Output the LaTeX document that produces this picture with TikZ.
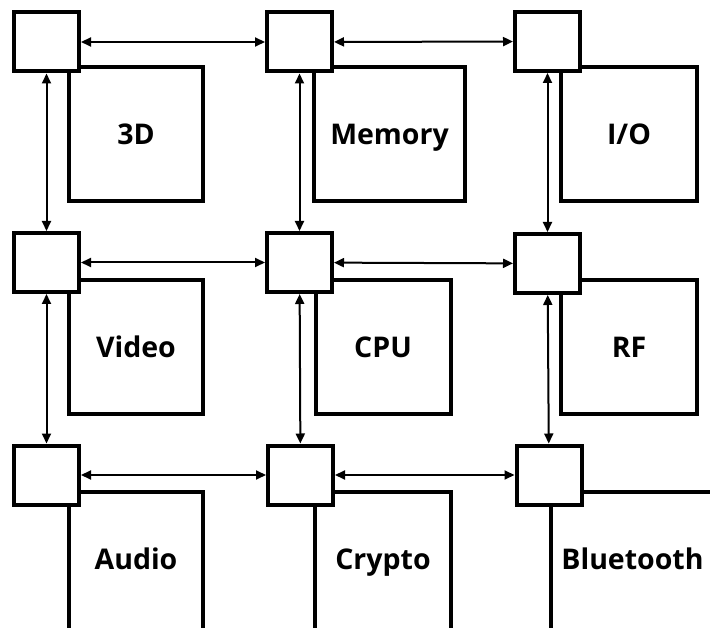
\documentclass[tikz,border=0pt]{standalone}
\usepackage{fontspec}
\setmainfont{Open Sans}
\usetikzlibrary{arrows.meta}
\begin{document}
\begin{tikzpicture}[x=1pt,y=-1pt,
  router/.style={draw, line width=4pt, fill=white, minimum width=65pt, minimum height=59pt, inner sep=0pt},
  labelfont/.style={font=\fontsize{28.5}{31}\selectfont\bfseries, text height=20.5pt, text depth=0pt},
  core/.style={draw, line width=4pt, fill=white, inner sep=0pt, labelfont},
  lbl/.style={inner sep=0pt, labelfont},
  link/.style={line width=2pt, {Triangle[length=10pt,width=9pt]}-{Triangle[length=10pt,width=9pt]}}
]
\useasboundingbox (0,0) rectangle (710,628);
\clip (0,0) rectangle (710,628);
% cores
\node[core, minimum width=134pt, minimum height=134pt] (b3d) at (136,134) {3D};
\node[core, minimum width=151pt, minimum height=134pt] (bmem) at (389.5,134) {Memory};
\node[core, minimum width=136pt, minimum height=134pt] (bio) at (629,134) {I/O};
\node[core, minimum width=134pt, minimum height=134pt] (bvid) at (136,347) {Video};
\node[core, minimum width=135pt, minimum height=134pt] (bcpu) at (383,347) {CPU};
\node[core, minimum width=136pt, minimum height=134pt] (brf) at (629,347) {RF};
\node[core, minimum width=134pt, minimum height=150pt] (baud) at (136,567) {};
\node[core, minimum width=136pt, minimum height=150pt] (bcry) at (383,567) {};
\node[core, minimum width=179pt, minimum height=150pt] (bbt) at (640.5,567) {};
\node[lbl] (taud) at (136,559) {Audio};
\node[lbl] (tcry) at (383,559) {Crypto};
\node[lbl] (tbt) at (632.5,559) {Bluetooth};
% routers
\node[router] (r11) at (46.5,42) {};
\node[router] (r12) at (299.5,42) {};
\node[router] (r13) at (547.5,41.5) {};
\node[router] (r21) at (46.5,262.5) {};
\node[router] (r22) at (299.5,262.5) {};
\node[router] (r23) at (547.5,263.5) {};
\node[router] (r31) at (46.5,475) {};
\node[router] (r32) at (300.5,475) {};
\node[router] (r33) at (549,475) {};
% links
\draw[link] (r11) -- (r12);
\draw[link] (r12) -- (r13);
\draw[link] (r21) -- (r22);
\draw[link] (r22) -- (r23);
\draw[link] (r31) -- (r32);
\draw[link] (r32) -- (r33);
\draw[link] (r11) -- (r21);
\draw[link] (r21) -- (r31);
\draw[link] (r12) -- (r22);
\draw[link] (r22) -- (r32);
\draw[link] (r13) -- (r23);
\draw[link] (r23) -- (r33);
\end{tikzpicture}
\end{document}
